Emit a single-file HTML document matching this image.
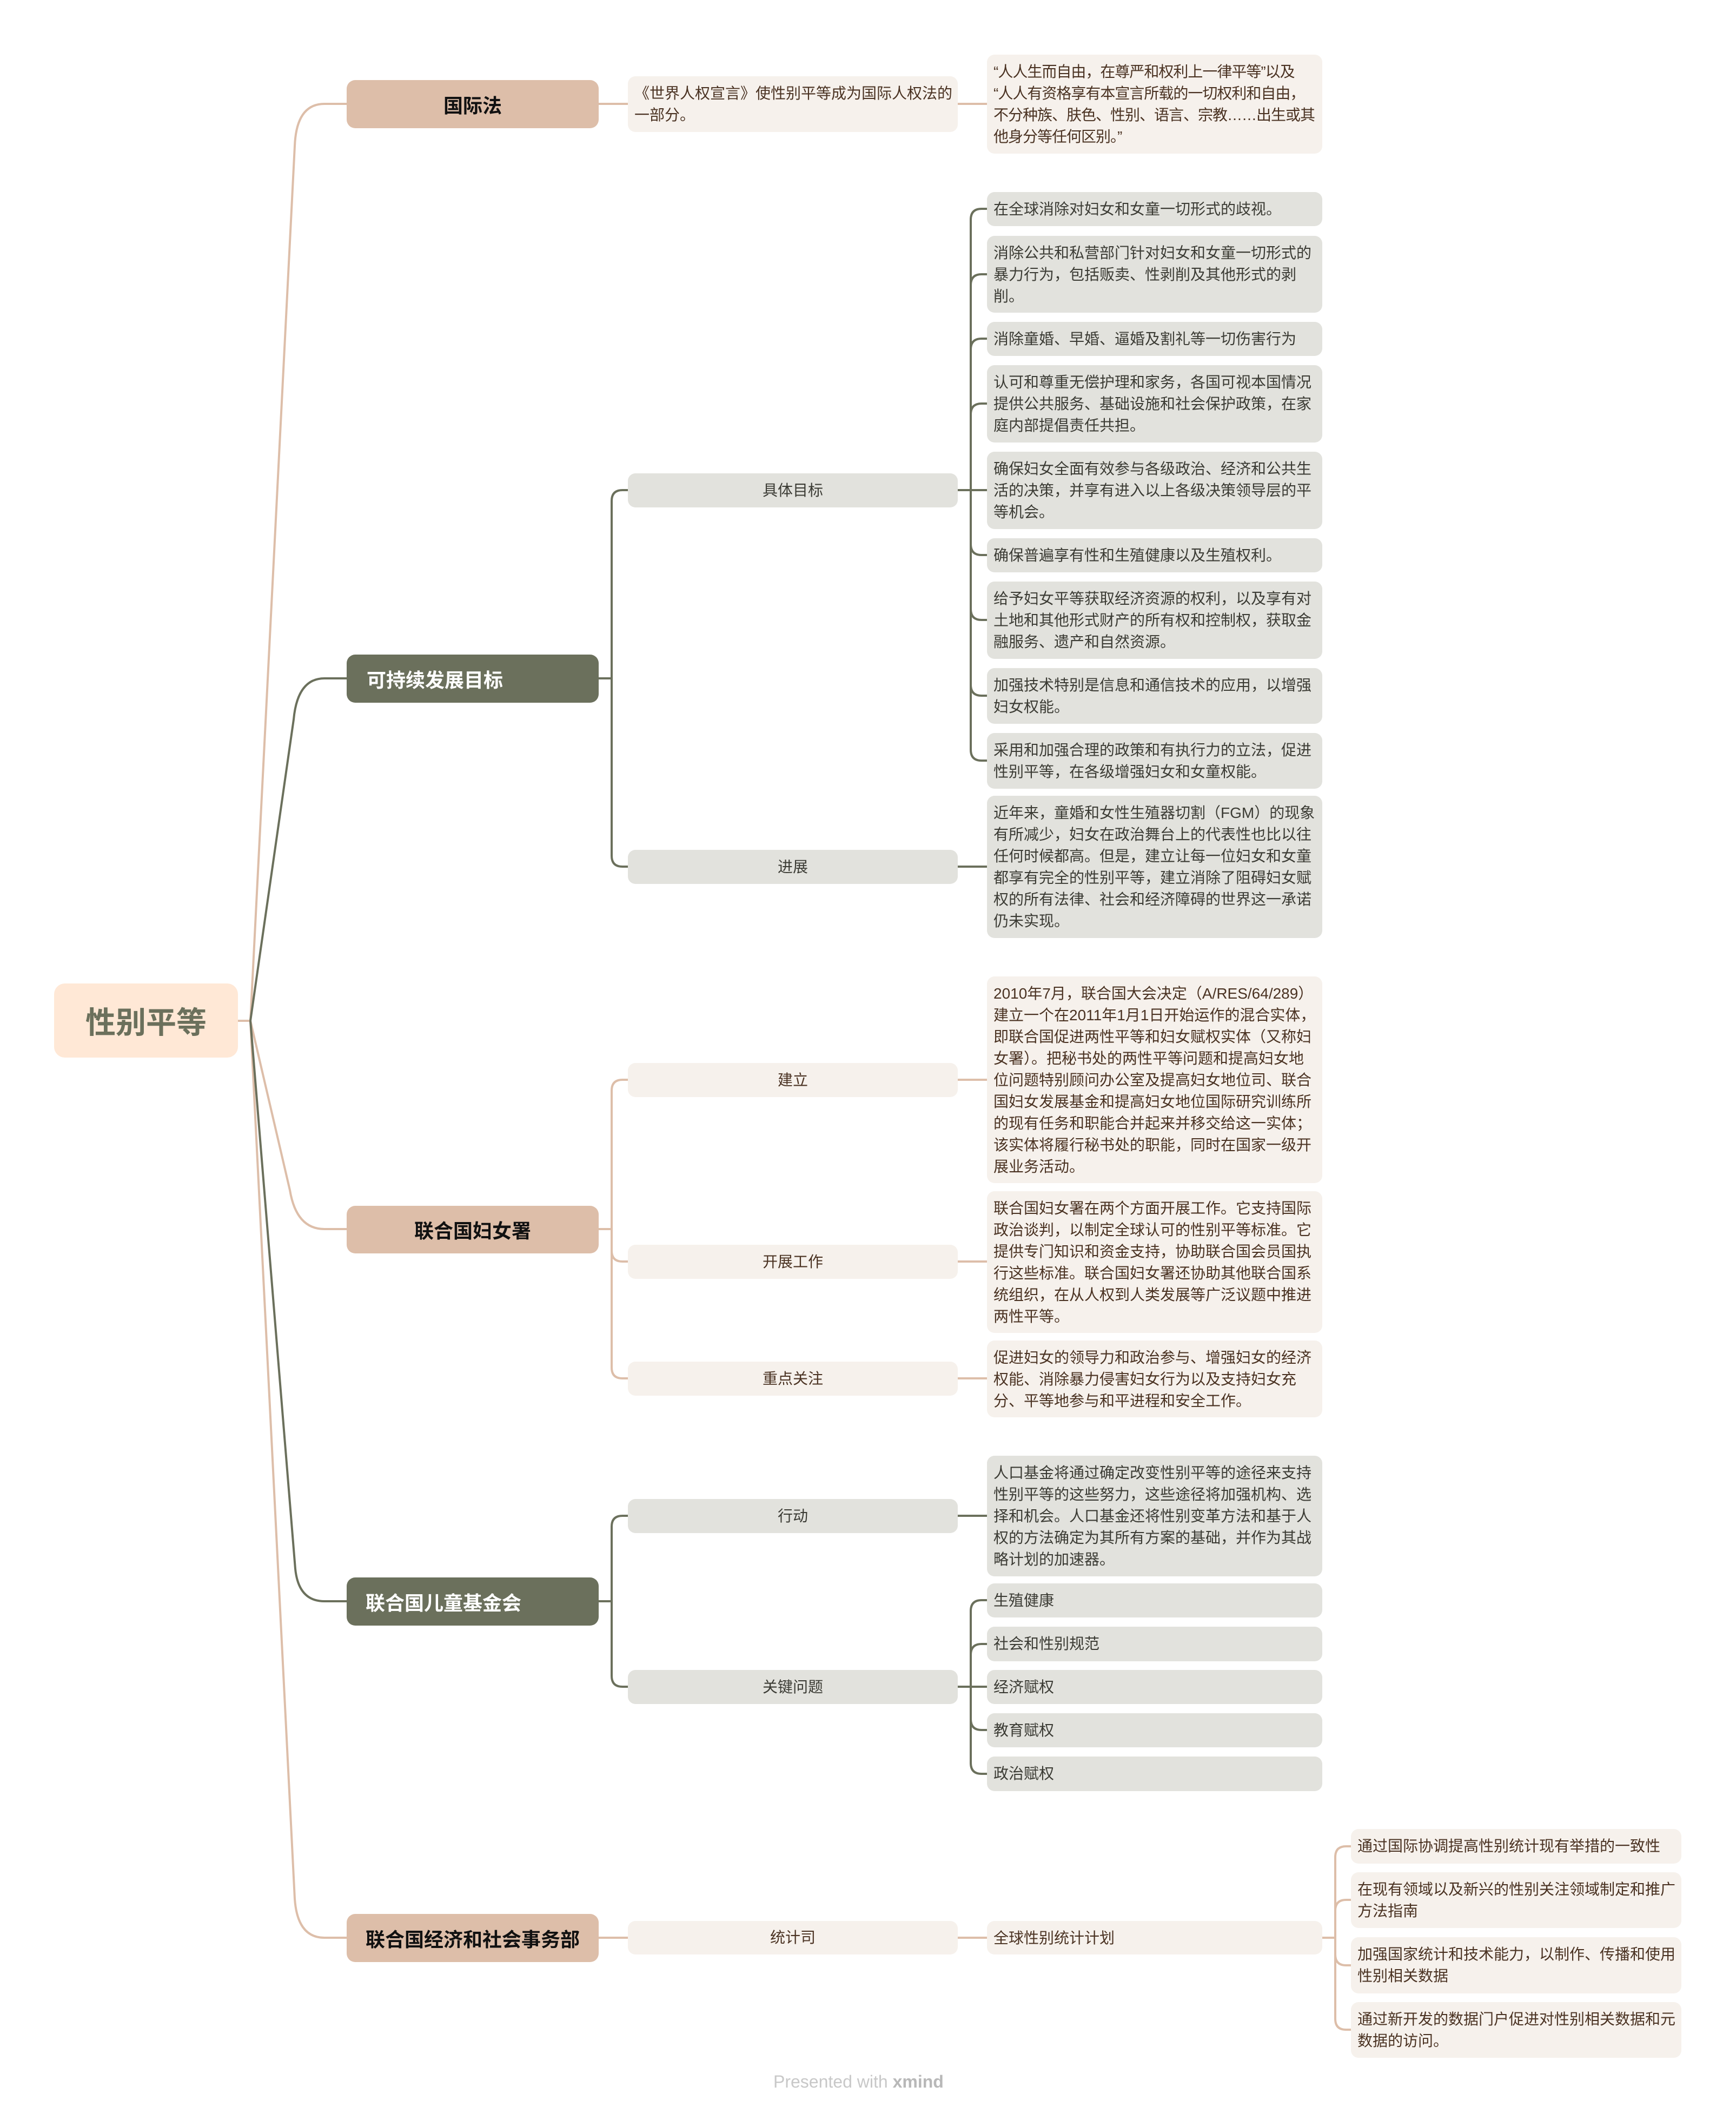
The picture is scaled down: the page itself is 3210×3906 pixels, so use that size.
<!DOCTYPE html>
<html><head><meta charset="utf-8">
<style>
html,body{margin:0;padding:0;background:#fff;}
body{width:3210px;height:3906px;position:relative;overflow:hidden;font-family:"Liberation Sans","Noto Sans CJK SC",sans-serif;}
.b{position:absolute;box-sizing:border-box;border-radius:14px;white-space:nowrap;}
.t{font-size:28px;line-height:40px;padding:12px 10px 0 12px;}
.lt{background:#f6f1ec;color:#4a3222;}
.gr{background:#e2e2dd;color:#3b3b34;}
.l2{font-size:28px;line-height:40px;text-align:center;display:flex;align-items:center;justify-content:center;}
.l1{font-size:36px;font-weight:bold;display:flex;align-items:center;border-radius:16px;}
.tan{background:#ddbea9;color:#111;}
.olv{background:#6b705c;color:#fff;}
</style></head><body>
<svg width="3210" height="3906" style="position:absolute;left:0;top:0" fill="none" stroke-width="4">
<g stroke="#ddbea9">
<path d="M438,1887 L463,1887"/>
<path d="M463,1887 L545,270 Q548,192 600,192 L641,192"/>
<path d="M463,1887 L536,2200 Q548,2272 600,2272 L641,2272"/>
<path d="M463,1887 L545,3510 Q550,3582 600,3582 L641,3582"/>
<path d="M1107,192 L1161,192"/>
<path d="M1771,192 L1825,192"/>
<path d="M1107,2272 L1131,2272"/>
<path d="M1131,2272 L1131,2016 Q1131,1996 1151,1996 L1161,1996"/>
<path d="M1131,2272 L1131,2312 Q1131,2332 1151,2332 L1161,2332"/>
<path d="M1131,2272 L1131,2528 Q1131,2548 1151,2548 L1161,2548"/>
<path d="M1771,1996 L1825,1996"/>
<path d="M1771,2332 L1825,2332"/>
<path d="M1771,2548 L1825,2548"/>
<path d="M1107,3582 L1161,3582"/>
<path d="M1771,3582 L1825,3582"/>
<path d="M2445,3582 L2469,3582"/>
<path d="M2469,3582 L2469,3433 Q2469,3413 2489,3413 L2498,3413"/>
<path d="M2469,3582 L2469,3532 Q2469,3512 2489,3512 L2498,3512"/>
<path d="M2469,3582 L2469,3613 Q2469,3633 2489,3633 L2498,3633"/>
<path d="M2469,3582 L2469,3732 Q2469,3752 2489,3752 L2498,3752"/>
</g>
<g stroke="#6b705c">
<path d="M463,1887 L543,1330 Q550,1254 600,1254 L641,1254"/>
<path d="M463,1887 L546,2900 Q552,2960 600,2960 L641,2960"/>
<path d="M1107,1254 L1131,1254"/>
<path d="M1131,1254 L1131,926 Q1131,906 1151,906 L1161,906"/>
<path d="M1131,1254 L1131,1582 Q1131,1602 1151,1602 L1161,1602"/>
<path d="M1771,906 L1825,906"/>
<path d="M1795,906 L1795,406 Q1795,386 1815,386 L1825,386"/>
<path d="M1795,906 L1795,527 Q1795,507 1815,507 L1825,507"/>
<path d="M1795,906 L1795,646 Q1795,626 1815,626 L1825,626"/>
<path d="M1795,906 L1795,766 Q1795,746 1815,746 L1825,746"/>
<path d="M1795,906 L1795,1006 Q1795,1026 1815,1026 L1825,1026"/>
<path d="M1795,906 L1795,1126 Q1795,1146 1815,1146 L1825,1146"/>
<path d="M1795,906 L1795,1266 Q1795,1286 1815,1286 L1825,1286"/>
<path d="M1795,906 L1795,1386 Q1795,1406 1815,1406 L1825,1406"/>
<path d="M1771,1602 L1825,1602"/>
<path d="M1107,2960 L1131,2960"/>
<path d="M1131,2960 L1131,2822 Q1131,2802 1151,2802 L1161,2802"/>
<path d="M1131,2960 L1131,3098 Q1131,3118 1151,3118 L1161,3118"/>
<path d="M1771,2802 L1825,2802"/>
<path d="M1771,3118 L1825,3118"/>
<path d="M1795,3118 L1795,2978 Q1795,2958 1815,2958 L1825,2958"/>
<path d="M1795,3118 L1795,3059 Q1795,3039 1815,3039 L1825,3039"/>
<path d="M1795,3118 L1795,3178 Q1795,3198 1815,3198 L1825,3198"/>
<path d="M1795,3118 L1795,3259 Q1795,3279 1815,3279 L1825,3279"/>
</g>
</svg>

<div class="b" style="left:100px;top:1818px;width:340px;height:137px;background:#ffe8d6;color:#6b705c;font-size:56px;font-weight:bold;display:flex;align-items:center;justify-content:center;border-radius:20px;">性别平等</div>

<div class="b l1 tan" style="left:641px;top:148px;width:466px;height:89px;justify-content:center;">国际法</div>
<div class="b l1 olv" style="left:641px;top:1210px;width:466px;height:89px;padding-left:37px;">可持续发展目标</div>
<div class="b l1 tan" style="left:641px;top:2229px;width:466px;height:88px;justify-content:center;">联合国妇女署</div>
<div class="b l1 olv" style="left:641px;top:2916px;width:466px;height:89px;padding-left:35px;">联合国儿童基金会</div>
<div class="b l1 tan" style="left:641px;top:3538px;width:466px;height:89px;padding-left:35px;">联合国经济和社会事务部</div>

<div class="b t lt" style="left:1161px;top:141px;width:610px;height:103px;">《世界人权宣言》使性别平等成为国际人权法的<br>一部分。</div>
<div class="b l2 gr" style="left:1161px;top:875px;width:610px;height:63px;">具体目标</div>
<div class="b l2 gr" style="left:1161px;top:1571px;width:610px;height:63px;">进展</div>
<div class="b l2 lt" style="left:1161px;top:1965px;width:610px;height:63px;">建立</div>
<div class="b l2 lt" style="left:1161px;top:2301px;width:610px;height:63px;">开展工作</div>
<div class="b l2 lt" style="left:1161px;top:2517px;width:610px;height:63px;">重点关注</div>
<div class="b l2 gr" style="left:1161px;top:2771px;width:610px;height:63px;">行动</div>
<div class="b l2 gr" style="left:1161px;top:3087px;width:610px;height:63px;">关键问题</div>
<div class="b l2 lt" style="left:1161px;top:3551px;width:610px;height:62px;">统计司</div>

<div class="b t lt" style="left:1825px;top:101px;width:620px;height:183px;letter-spacing:-1px;">“人人生而自由，在尊严和权利上一律平等”以及<br>“人人有资格享有本宣言所载的一切权利和自由，<br>不分种族、肤色、性别、语言、宗教……出生或其<br>他身分等任何区别。”</div>

<div class="b t gr" style="left:1825px;top:355px;width:620px;height:63px;">在全球消除对妇女和女童一切形式的歧视。</div>
<div class="b t gr" style="left:1825px;top:436px;width:620px;height:142px;">消除公共和私营部门针对妇女和女童一切形式的<br>暴力行为，包括贩卖、性剥削及其他形式的剥<br>削。</div>
<div class="b t gr" style="left:1825px;top:595px;width:620px;height:63px;">消除童婚、早婚、逼婚及割礼等一切伤害行为</div>
<div class="b t gr" style="left:1825px;top:675px;width:620px;height:143px;">认可和尊重无偿护理和家务，各国可视本国情况<br>提供公共服务、基础设施和社会保护政策，在家<br>庭内部提倡责任共担。</div>
<div class="b t gr" style="left:1825px;top:835px;width:620px;height:143px;">确保妇女全面有效参与各级政治、经济和公共生<br>活的决策，并享有进入以上各级决策领导层的平<br>等机会。</div>
<div class="b t gr" style="left:1825px;top:995px;width:620px;height:63px;">确保普遍享有性和生殖健康以及生殖权利。</div>
<div class="b t gr" style="left:1825px;top:1075px;width:620px;height:143px;">给予妇女平等获取经济资源的权利，以及享有对<br>土地和其他形式财产的所有权和控制权，获取金<br>融服务、遗产和自然资源。</div>
<div class="b t gr" style="left:1825px;top:1235px;width:620px;height:103px;">加强技术特别是信息和通信技术的应用，以增强<br>妇女权能。</div>
<div class="b t gr" style="left:1825px;top:1355px;width:620px;height:103px;">采用和加强合理的政策和有执行力的立法，促进<br>性别平等，在各级增强妇女和女童权能。</div>
<div class="b t gr" style="left:1825px;top:1471px;width:620px;height:263px;">近年来，童婚和女性生殖器切割（FGM）的现象<br>有所减少，妇女在政治舞台上的代表性也比以往<br>任何时候都高。但是，建立让每一位妇女和女童<br>都享有完全的性别平等，建立消除了阻碍妇女赋<br>权的所有法律、社会和经济障碍的世界这一承诺<br>仍未实现。</div>

<div class="b t lt" style="left:1825px;top:1805px;width:620px;height:382px;">2010年7月，联合国大会决定（A/RES/64/289）<br>建立一个在2011年1月1日开始运作的混合实体，<br>即联合国促进两性平等和妇女赋权实体（又称妇<br>女署）。把秘书处的两性平等问题和提高妇女地<br>位问题特别顾问办公室及提高妇女地位司、联合<br>国妇女发展基金和提高妇女地位国际研究训练所<br>的现有任务和职能合并起来并移交给这一实体；<br>该实体将履行秘书处的职能，同时在国家一级开<br>展业务活动。</div>
<div class="b t lt" style="left:1825px;top:2202px;width:620px;height:262px;">联合国妇女署在两个方面开展工作。它支持国际<br>政治谈判，以制定全球认可的性别平等标准。它<br>提供专门知识和资金支持，协助联合国会员国执<br>行这些标准。联合国妇女署还协助其他联合国系<br>统组织，在从人权到人类发展等广泛议题中推进<br>两性平等。</div>
<div class="b t lt" style="left:1825px;top:2478px;width:620px;height:142px;">促进妇女的领导力和政治参与、增强妇女的经济<br>权能、消除暴力侵害妇女行为以及支持妇女充<br>分、平等地参与和平进程和安全工作。</div>

<div class="b t gr" style="left:1825px;top:2691px;width:620px;height:223px;">人口基金将通过确定改变性别平等的途径来支持<br>性别平等的这些努力，这些途径将加强机构、选<br>择和机会。人口基金还将性别变革方法和基于人<br>权的方法确定为其所有方案的基础，并作为其战<br>略计划的加速器。</div>
<div class="b t gr" style="left:1825px;top:2927px;width:620px;height:63px;">生殖健康</div>
<div class="b t gr" style="left:1825px;top:3007px;width:620px;height:64px;">社会和性别规范</div>
<div class="b t gr" style="left:1825px;top:3087px;width:620px;height:63px;">经济赋权</div>
<div class="b t gr" style="left:1825px;top:3167px;width:620px;height:63px;">教育赋权</div>
<div class="b t gr" style="left:1825px;top:3247px;width:620px;height:64px;">政治赋权</div>

<div class="b t lt" style="left:1825px;top:3551px;width:620px;height:62px;">全球性别统计计划</div>

<div class="b t lt" style="left:2498px;top:3381px;width:611px;height:64px;">通过国际协调提高性别统计现有举措的一致性</div>
<div class="b t lt" style="left:2498px;top:3461px;width:611px;height:103px;">在现有领域以及新兴的性别关注领域制定和推广<br>方法指南</div>
<div class="b t lt" style="left:2498px;top:3581px;width:611px;height:104px;">加强国家统计和技术能力，以制作、传播和使用<br>性别相关数据</div>
<div class="b t lt" style="left:2498px;top:3701px;width:611px;height:103px;">通过新开发的数据门户促进对性别相关数据和元<br>数据的访问。</div>

<div style="position:absolute;left:1430px;top:3826px;font-size:32px;line-height:44px;color:#c8c8c8;white-space:nowrap;">Presented with <b style="color:#b8b8b8">xmind</b></div>
</body></html>
